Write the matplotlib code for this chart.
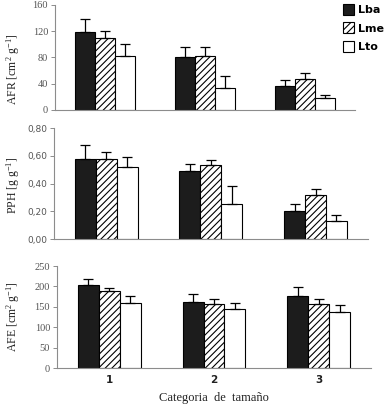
import matplotlib
matplotlib.use("Agg")
import matplotlib.pyplot as plt
import numpy as np
from matplotlib.patches import Patch

plt.rcParams["mathtext.fontset"] = "custom"
plt.rcParams["mathtext.rm"] = "Liberation Serif"
plt.rcParams["mathtext.it"] = "Liberation Serif"
plt.rcParams["hatch.linewidth"] = 0.8

# ------------------------------------------------------------
# Data
# ------------------------------------------------------------

categories = ["1", "2", "3"]
series = ["Lba", "Lme", "Lto"]

afr_mean = {"Lba": [119, 80, 36], "Lme": [110, 83, 47], "Lto": [83, 34, 19]}
afr_err = {"Lba": [20, 16, 9], "Lme": [11, 13, 9], "Lto": [17, 18, 4]}

pph_mean = {"Lba": [0.58, 0.49, 0.20], "Lme": [0.58, 0.53, 0.32], "Lto": [0.52, 0.25, 0.13]}
pph_err = {"Lba": [0.10, 0.05, 0.05], "Lme": [0.05, 0.04, 0.04], "Lto": [0.07, 0.13, 0.04]}

afe_mean = {"Lba": [203, 161, 176], "Lme": [188, 158, 156], "Lto": [159, 144, 137]}
afe_err = {"Lba": [14, 20, 23], "Lme": [7, 12, 12], "Lto": [17, 16, 18]}

afr_ticks = [0, 40, 80, 120, 160]
pph_ticks = [0.0, 0.2, 0.4, 0.6, 0.8]
pph_ticklabels = ["0,00", "0,20", "0,40", "0,60", "0,80"]
afe_ticks = [0, 50, 100, 150, 200, 250]

styles = {
    "Lba": dict(color="#1c1c1c", hatch=None),
    "Lme": dict(color="white", hatch="/////"),
    "Lto": dict(color="white", hatch=None),
}

SERIF = "Liberation Serif"
GRAY = "#8c8c8c"


def draw_bars(ax, means, errs):
    x = np.arange(1, len(categories) + 1)
    width = 0.2
    for i, name in enumerate(series):
        pos = x + (i - 1) * width
        m = np.array(means[name])
        e = np.array(errs[name])
        ax.bar(
            pos, m, width=width,
            color=styles[name]["color"], hatch=styles[name]["hatch"],
            edgecolor="black", linewidth=0.8, zorder=2,
        )
        ax.errorbar(
            pos, m, yerr=[np.zeros_like(e), e], fmt="none",
            ecolor="black", elinewidth=0.9, capsize=3.5, capthick=0.9, zorder=3,
        )
    ax.set_xlim(0.5, 3.5)
    for side in ["top", "right"]:
        ax.spines[side].set_visible(False)
    for side in ["left", "bottom"]:
        ax.spines[side].set_color(GRAY)
        ax.spines[side].set_linewidth(0.8)
    ax.tick_params(axis="y", colors=GRAY, labelcolor="#555555", length=3, width=0.7, pad=2)
    ax.tick_params(axis="x", length=0)


fig = plt.figure(figsize=(3.88, 4.08), dpi=100)

# ---- AFR ----
ax1 = fig.add_axes([0.1418, 0.7304, 0.773, 0.2574])
draw_bars(ax1, afr_mean, afr_err)
ax1.set_ylim(0, 160)
ax1.set_yticks(afr_ticks)
ax1.set_yticklabels([str(t) for t in afr_ticks], fontfamily=SERIF, fontsize=7.5)
ax1.set_xticks([])

# ---- PPH ----
ax2 = fig.add_axes([0.139, 0.4142, 0.809, 0.272])
draw_bars(ax2, pph_mean, pph_err)
ax2.set_ylim(0, 0.8)
ax2.set_yticks(pph_ticks)
ax2.set_yticklabels(pph_ticklabels, fontfamily="DejaVu Sans", fontsize=6.5)
ax2.set_xticks([])

# ---- AFE ----
ax3 = fig.add_axes([0.147, 0.098, 0.809, 0.25])
draw_bars(ax3, afe_mean, afe_err)
ax3.set_ylim(0, 250)
ax3.set_yticks(afe_ticks)
ax3.set_yticklabels([str(t) for t in afe_ticks], fontfamily=SERIF, fontsize=7.5)
ax3.set_xticks([1, 2, 3])
ax3.set_xticklabels(categories, fontfamily="DejaVu Sans", fontsize=7.5,
                    fontweight="bold", color="#222222")
ax3.tick_params(axis="x", pad=5)
ax3.set_xlabel("Categoria  de  tamaño", fontfamily=SERIF, fontsize=9,
               labelpad=5, color="#222222")

# y labels
fig.text(0.035, 0.83, r"AFR [cm$^{2}$ g$^{-1}$]", rotation=90, ha="center",
         va="center", fontfamily=SERIF, fontsize=8.5, color="#222222")
fig.text(0.035, 0.545, r"PPH [g g$^{-1}$]", rotation=90, ha="center",
         va="center", fontfamily=SERIF, fontsize=8.5, color="#222222")
fig.text(0.035, 0.225, r"AFE [cm$^{2}$ g$^{-1}$]", rotation=90, ha="center",
         va="center", fontfamily=SERIF, fontsize=8.5, color="#222222")

# legend
handles = [
    Patch(facecolor=styles[n]["color"], hatch=styles[n]["hatch"],
          edgecolor="black", linewidth=0.8, label=n)
    for n in series
]
fig.legend(handles=handles, loc="upper right", bbox_to_anchor=(1.015, 1.015),
           frameon=False, handlelength=1.0, handleheight=1.15, handletextpad=0.35,
           labelspacing=0.65, prop={"family": "DejaVu Sans", "weight": "bold", "size": 8})

fig.savefig("out.png", dpi=100)
